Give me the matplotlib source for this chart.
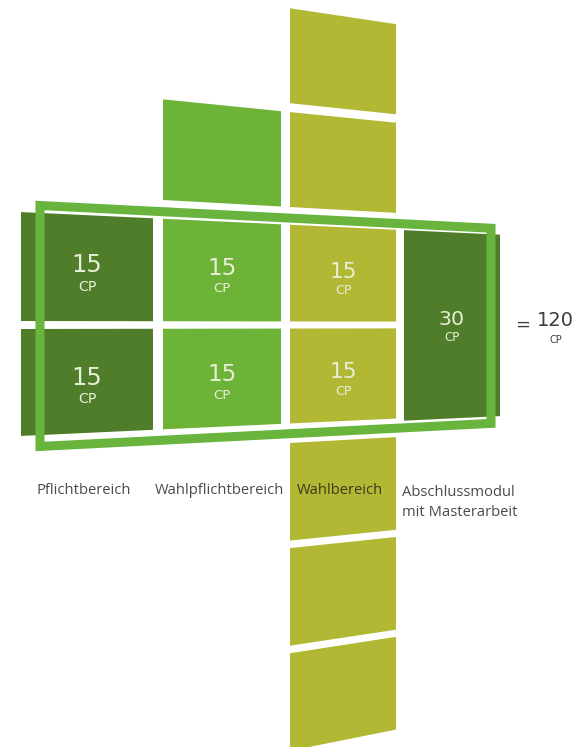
import matplotlib.pyplot as plt
from matplotlib.patches import Polygon

# Bereiche und Leistungspunkte (CP)
bereiche = ['Pflichtbereich', 'Wahlpflichtbereich', 'Wahlbereich', 'Abschlussmodul\nmit Masterarbeit']
cp_oben = [15, 15, 15]      # obere Zeile
cp_unten = [15, 15, 15]     # untere Zeile
cp_abschluss = 30
cp_gesamt = 120
bloecke_oben = [0, 1, 2, 0]     # zusaetzliche Bloecke ueber dem Rahmen
bloecke_unten = [0, 0, 3, 0]    # zusaetzliche Bloecke unter dem Rahmen
farben = ['#4f7d2a', '#6db337', '#b2b834', '#4f7d2a']

# layout (pixel coords, simple perspective towards the right)
spalte_x = [(21, 153), (163, 281), (290, 396), (404, 500)]
zeilen = [(-113, -4), (4, 111)]
yc = 325
k = 0.000418
rahmen_farbe = '#69b43c'
text_hell = '#e8efd9'


def s(x):
    return 1 - k * (x - 20)


def punkt(x, v):
    return (x, yc + v * s(x))


def viereck(ax, x0, x1, v0, v1, farbe, z=1):
    ecken = [punkt(x0, v0), punkt(x1, v0), punkt(x1, v1), punkt(x0, v1)]
    ax.add_patch(Polygon(ecken, closed=True, facecolor=farbe, edgecolor='none', zorder=z))


def cp_text(ax, x, v, wert):
    f = s(x)
    ax.text(x, yc + (v - 3) * f, str(wert), color=text_hell, fontsize=18 * f,
            family='DejaVu Sans', ha='center', va='center', zorder=5)
    ax.text(x, yc + (v + 19) * f, 'CP', color=text_hell, fontsize=10.5 * f,
            family='DejaVu Sans', ha='center', va='center', zorder=5)


fig = plt.figure(figsize=(5.8, 7.47), dpi=100)
ax = fig.add_axes([0, 0, 1, 1])
ax.set_xlim(0, 580)
ax.set_ylim(747, 0)
ax.axis('off')

# Zellen im Rahmen
for i in range(3):
    x0, x1 = spalte_x[i]
    xm = (x0 + x1) / 2
    for (v0, v1), wert in zip(zeilen, [cp_oben[i], cp_unten[i]]):
        viereck(ax, x0, x1, v0, v1, farben[i])
        cp_text(ax, xm, (v0 + v1) / 2, wert)

# Abschlussmodul ueber beide Zeilen
x0, x1 = spalte_x[3]
viereck(ax, x0, x1, zeilen[0][0], zeilen[1][1] + 3, farben[3])
cp_text(ax, (x0 + x1) / 2, (zeilen[0][0] + zeilen[1][1]) / 2 - 3, cp_abschluss)

# Bloecke oberhalb / unterhalb
for i in range(4):
    x0, x1 = spalte_x[i]
    for j in range(bloecke_oben[i]):
        v1 = -133 - j * 117
        viereck(ax, x0, x1, v1 - 107, v1, farben[i])
    for j in range(bloecke_unten[i]):
        v0 = 133 + j * 118.5
        viereck(ax, x0, x1, v0, v0 + 110, farben[i])

# Rahmen
rahmen = [punkt(40, -120.5), punkt(491, -120.5), punkt(491, 122.5), punkt(40, 122.5)]
ax.add_patch(Polygon(rahmen, closed=True, fill=False, edgecolor=rahmen_farbe,
                     linewidth=6.5, joinstyle='miter', zorder=4))

# Beschriftungen
for i, name in enumerate(bereiche):
    x0, x1 = spalte_x[i]
    farbe = '#3a3a1e' if i == 2 else '#4a4a4a'
    for n, zeile in enumerate(name.split('\n')):
        if i == 3:
            ax.text(x0 - 2, 492 + n * 21, zeile, ha='left', va='center',
                    family='Open Sans', fontsize=10.6, color=farbe, zorder=6)
        else:
            ax.text((x0 + x1) / 2 - 3, 491, zeile, ha='center', va='center',
                    family='Open Sans', fontsize=10.6, color=farbe, zorder=6)

# Summe
ax.text(523, 325, '=', ha='center', va='center', fontsize=13, color='#3d3d3d', family='DejaVu Sans')
ax.text(555, 320, str(cp_gesamt), ha='center', va='center', fontsize=14, color='#3d3d3d', family='DejaVu Sans')
ax.text(556, 340, 'CP', ha='center', va='center', fontsize=7, color='#3d3d3d', family='DejaVu Sans')

fig.savefig('out.png', dpi=100)
